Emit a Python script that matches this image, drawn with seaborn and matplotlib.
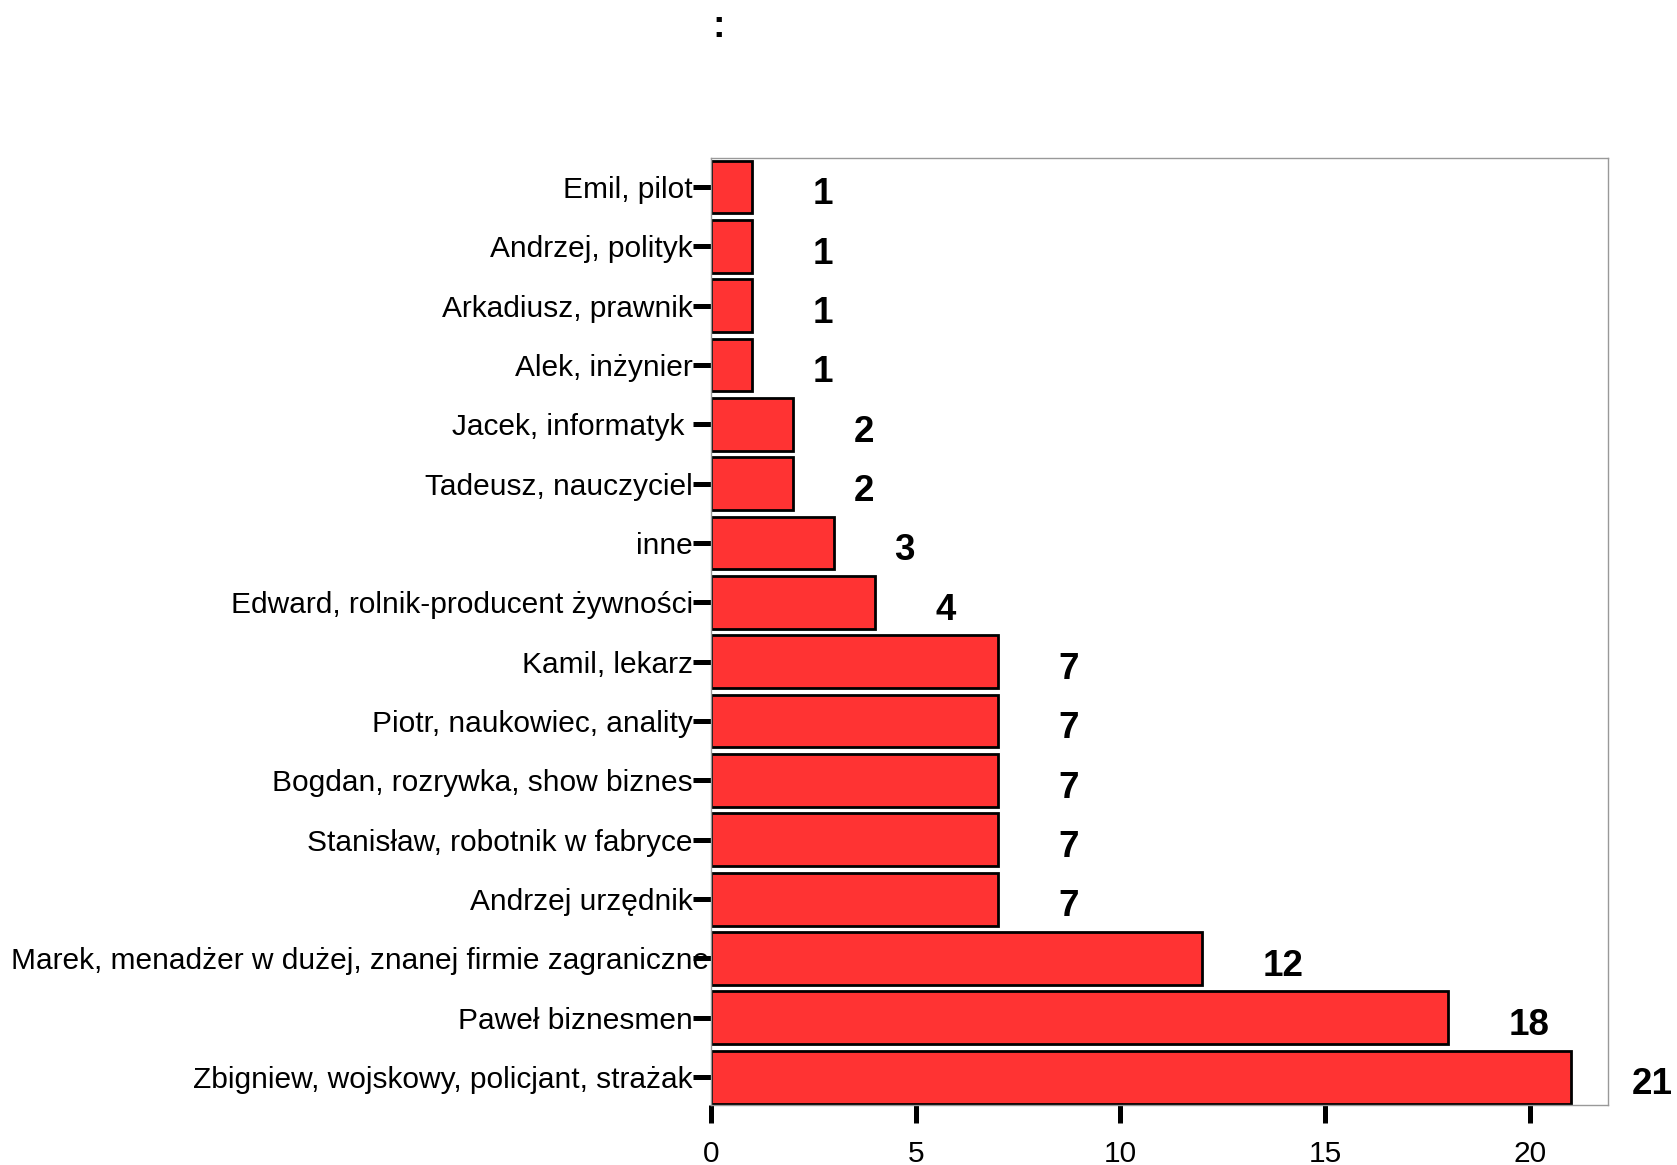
import pandas as pd
import seaborn as sns
import matplotlib.pyplot as plt
from matplotlib.transforms import offset_copy

sns.set_style("white")
plt.rcParams['font.family'] = ['Liberation Sans', 'DejaVu Sans']
plt.rcParams['text.color'] = 'black'
plt.rcParams['xtick.color'] = 'black'
plt.rcParams['ytick.color'] = 'black'

labels = ["Emil, pilot", "Andrzej, polityk", "Arkadiusz, prawnik", "Alek, inżynier",
          "Jacek, informatyk ", "Tadeusz, nauczyciel", "inne",
          "Edward, rolnik-producent żywności", "Kamil, lekarz",
          "Piotr, naukowiec, anality", "Bogdan, rozrywka, show biznes",
          "Stanisław, robotnik w fabryce", "Andrzej urzędnik",
          "Marek, menadżer w dużej, znanej firmie zagraniczne",
          "Paweł biznesmen", "Zbigniew, wojskowy, policjant, strażak"]
counts = [1, 1, 1, 1, 2, 2, 3, 4, 7, 7, 7, 7, 7, 12, 18, 21]

df = pd.DataFrame({'label': labels, 'count': counts})

fig = plt.figure(figsize=(16.77, 11.65), dpi=100)
ax = fig.add_axes([0.424, 0.0515, 0.5346, 0.8129])
sns.barplot(data=df, x='count', y='label', orient='h', color='#FF3333',
            saturation=1, edgecolor='black', linewidth=2, width=0.89, ax=ax)

for i, v in enumerate(counts):
    ax.text(v + 1.48, i + 0.13, str(v), ha='left', va='center', color='black',
            fontsize=26.5, fontweight='bold', clip_on=False)

ax.set_xlim(0, 21.9)
ax.set_ylim(15.47, -0.49)
ax.set_xticks([0, 5, 10, 15, 20])
ax.set_xlabel('')
ax.set_ylabel('')
ax.tick_params(axis='x', direction='out', length=13, width=3.6, pad=12,
               labelsize=21.5, bottom=True, colors='black')
ax.tick_params(axis='y', direction='out', length=13, width=3.6, pad=0,
               labelsize=21.5, left=True, colors='black')
for s in ax.spines.values():
    s.set_color('#999999')
    s.set_linewidth(1)

# the long label runs over the tick in the original
for t in ax.get_yticklabels():
    if t.get_text().startswith('Marek'):
        t.set_transform(offset_copy(t.get_transform(), fig=fig, x=16, y=0, units='dots'))

fig.text(719 / 1677, 1 - 27 / 1165, ':', ha='center', va='center',
         fontsize=27, fontweight='bold', color='black')

plt.savefig('out.png', dpi=100)
